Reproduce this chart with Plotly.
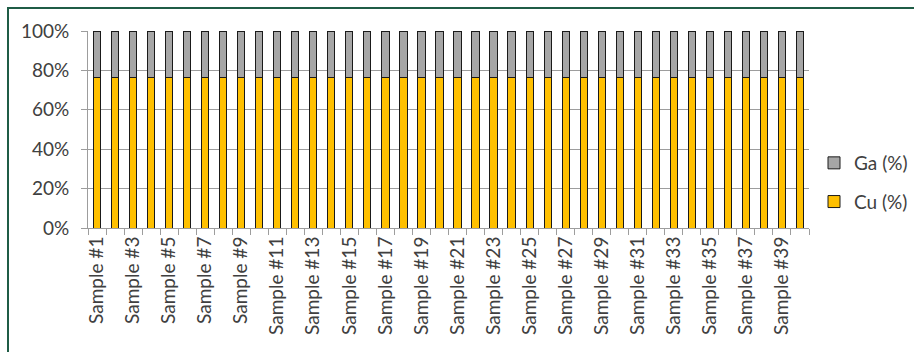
import plotly.graph_objects as go

samples = [f"Sample #{i}" for i in range(1, 41)]
cu_pct = [76.5] * 40
ga_pct = [23.5] * 40
tick_text = [s if i % 2 == 0 else "" for i, s in enumerate(samples)]
y_ticks = [0, 20, 40, 60, 80, 100]
y_tick_text = [f"{v}%" for v in y_ticks]

W, H = 914, 352
ML, MR, MT, MB = 88, 105, 31, 124
PW, PH = W - ML - MR, H - MT - MB

FONT = "Lato"
FS = 19
TXT = "#404040"

fig = go.Figure()
fig.add_trace(go.Bar(x=samples, y=cu_pct, name="Cu (%)", legendgroup="cu", legendrank=2,
                     marker=dict(color="#FFC000", line=dict(color="#1a1a1a", width=1))))
fig.add_trace(go.Bar(x=samples, y=ga_pct, name="Ga (%)", legendgroup="ga", legendrank=1,
                     marker=dict(color="#A6A6A6", line=dict(color="#1a1a1a", width=1))))

def px_x(p):
    return (p - ML) / PW

def px_y(p):
    return (H - MB - p) / PH

fig.update_layout(
    width=W, height=H,
    margin=dict(l=ML, r=MR, t=MT, b=MB, pad=0, autoexpand=False),
    barmode="stack", bargap=0.6,
    paper_bgcolor="white", plot_bgcolor="white",
    font=dict(family=FONT, size=FS, color=TXT),
    showlegend=True,
    legend=dict(traceorder="grouped", tracegroupgap=11,
                xref="container", yref="container",
                x=814 / W, xanchor="left", y=1 - 144 / H, yanchor="top",
                font=dict(family=FONT, size=FS, color=TXT),
                bgcolor="rgba(0,0,0,0)", itemwidth=30),
    xaxis=dict(type="category", tickmode="array", tickvals=samples, ticktext=tick_text,
               tickangle=-90, tickson="boundaries", ticks="outside", ticklen=6,
               tickcolor="#9d9d9d", showline=True, linecolor="#9d9d9d", linewidth=1,
               showgrid=False, tickfont=dict(family=FONT, size=FS, color=TXT),
               range=[-0.5, 39.5], automargin=False),
    yaxis=dict(range=[0, 100], tickmode="array", tickvals=y_ticks, ticktext=y_tick_text,
               ticks="outside", ticklen=6, tickcolor="#9d9d9d", showline=True,
               linecolor="#9d9d9d", linewidth=1, showgrid=True, gridcolor="#9d9d9d",
               gridwidth=1, zeroline=False, tickfont=dict(family=FONT, size=FS, color=TXT),
               ticklabelstandoff=8, automargin=False),
    shapes=[dict(type="rect", xref="paper", yref="paper",
                 x0=px_x(8), x1=px_x(1000), y0=px_y(400), y1=px_y(8),
                 line=dict(color="#1F5C46", width=2), fillcolor="rgba(0,0,0,0)",
                 layer="below")],
)

fig.write_html("out.html")
